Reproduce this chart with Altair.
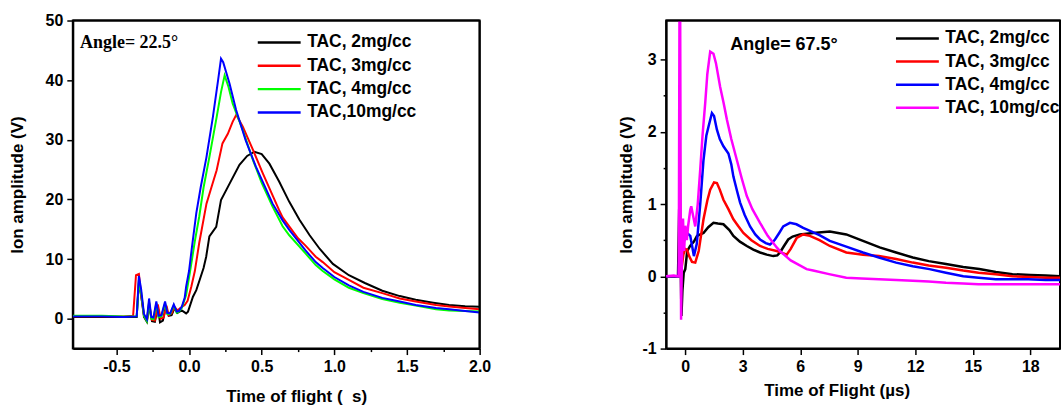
import altair as alt
import pandas as pd

# ---------------- Left panel data (Angle = 22.5 deg) ----------------
L_NAMES = ["TAC, 2mg/cc", "TAC, 3mg/cc", "TAC, 4mg/cc", "TAC,10mg/cc"]
L_COLORS = ["#000000", "#FF0000", "#00FF00", "#0000FF"]

L2_X = [-0.8, -0.6, -0.45, -0.36, -0.345, -0.33, -0.31, -0.29, -0.275, -0.255, -0.235, -0.215, -0.2, -0.18,
        -0.16, -0.14, -0.12, -0.1, -0.08, -0.05, -0.02, -0.007, 0.027, 0.05, 0.073, 0.1, 0.118, 0.14, 0.187,
        0.22, 0.28, 0.347, 0.4, 0.45, 0.5, 0.553, 0.62, 0.69, 0.76, 0.83, 0.9, 0.99, 1.1, 1.21, 1.33,
        1.45, 1.56, 1.68, 1.79, 1.9, 2.0]
L2_Y = [0.3, 0.3, 0.3, 0.3, 6.5, 4.0, 0.3, -0.5, 2.2, -0.4, -0.5, 2.0, -0.6, -0.3,
        2.0, 0.5, 0.6, 1.8, 1.0, 1.4, 0.9, 1.2, 3.7, 4.8, 6.5, 8.5, 10.4, 13.8, 15.4,
        19.9, 22.7, 25.8, 27.3, 28.0, 27.6, 26.0, 23.0, 19.6, 16.6, 14.0, 11.7, 9.2, 7.3, 6.0, 4.7,
        3.8, 3.2, 2.7, 2.3, 2.1, 2.0]

L3_X = [-0.8, -0.6, -0.45, -0.385, -0.365, -0.345, -0.33, -0.31, -0.29, -0.275, -0.255, -0.235, -0.215,
        -0.195, -0.175, -0.155, -0.14, -0.12, -0.1, -0.08, -0.06, -0.03, -0.01, 0.016, 0.04, 0.07, 0.12,
        0.16, 0.19, 0.23, 0.267, 0.3, 0.325, 0.37, 0.44, 0.507, 0.62, 0.644, 0.75, 0.8, 0.872, 0.92, 1.0,
        1.1, 1.2, 1.33, 1.45, 1.56, 1.7, 1.79, 1.9, 2.0]
L3_Y = [0.4, 0.4, 0.4, 0.5, 7.3, 7.5, 4.0, 0.6, -0.3, 2.6, -0.2, -0.3, 2.4,
        0.0, 0.2, 2.2, 0.6, 0.9, 2.0, 1.4, 1.8, 2.3, 3.0, 5.4, 8.0, 12.7, 19.3,
        22.5, 24.9, 29.4, 31.0, 33.0, 34.2, 32.2, 28.3, 24.4, 18.2, 17.0, 13.5, 12.3, 10.4, 9.5, 7.8,
        6.5, 5.2, 4.3, 3.4, 2.9, 2.3, 2.05, 1.8, 1.6]

L4_X = [-0.8, -0.6, -0.45, -0.36, -0.345, -0.33, -0.31, -0.29, -0.275, -0.26, -0.245, -0.225, -0.21,
        -0.19, -0.165, -0.15, -0.13, -0.105, -0.085, -0.07, -0.05, -0.02, 0.005, 0.04, 0.07, 0.1, 0.14,
        0.19, 0.22, 0.245, 0.27, 0.3, 0.37, 0.44, 0.5, 0.575, 0.644, 0.69, 0.8, 0.872, 0.92, 1.0, 1.1,
        1.2, 1.33, 1.45, 1.56, 1.7, 1.79, 1.9, 2.0]
L4_Y = [0.5, 0.5, 0.4, 0.4, 6.0, 4.5, 0.5, -0.4, 2.8, 0.0, -0.1, 2.6, 0.3,
        0.4, 2.6, 0.8, 0.8, 2.2, 1.0, 1.2, 1.8, 4.0, 7.6, 13.0, 17.1, 22.0, 27.1,
        33.8, 38.0, 40.8, 39.0, 36.1, 31.6, 26.6, 22.8, 18.8, 15.5, 14.0, 11.0, 9.0, 8.0, 6.6, 5.2,
        4.3, 3.3, 2.7, 2.2, 1.6, 1.4, 1.3, 1.2]

L10_X = [-0.8, -0.6, -0.45, -0.36, -0.345, -0.33, -0.31, -0.29, -0.275, -0.26, -0.245, -0.225, -0.21,
         -0.19, -0.165, -0.15, -0.13, -0.105, -0.085, -0.07, -0.05, -0.03, -0.02, 0.0, 0.02, 0.05, 0.08,
         0.12, 0.164, 0.2, 0.22, 0.235, 0.279, 0.324, 0.39, 0.46, 0.575, 0.644, 0.69, 0.8, 0.872, 0.92,
         1.0, 1.1, 1.2, 1.33, 1.45, 1.56, 1.7, 1.79, 1.9, 2.0]
L10_Y = [0.4, 0.4, 0.3, 0.4, 7.2, 5.0, 0.8, -0.1, 3.4, 0.3, 0.2, 2.9, 0.5,
         0.6, 2.9, 1.0, 0.9, 2.4, 1.2, 1.3, 2.0, 3.5, 5.4, 8.0, 12.0, 17.7, 22.0,
         27.1, 33.8, 40.0, 43.6, 43.0, 39.4, 35.0, 29.9, 25.5, 19.3, 16.5, 14.9, 11.5, 9.5, 8.5,
         7.0, 5.6, 4.5, 3.5, 2.9, 2.3, 1.8, 1.6, 1.3, 1.05]

L_SERIES = [(L_NAMES[0], L2_X, L2_Y), (L_NAMES[1], L3_X, L3_Y),
            (L_NAMES[2], L4_X, L4_Y), (L_NAMES[3], L10_X, L10_Y)]

# ---------------- Right panel data (Angle = 67.5 deg) ----------------
R_NAMES = ["TAC, 2mg/cc", "TAC, 3mg/cc", "TAC, 4mg/cc", "TAC, 10mg/cc"]
R_COLORS = ["#000000", "#FF0000", "#0000FF", "#FF00FF"]

R2_X = [-1.0, -0.6, -0.38, -0.32, -0.28, -0.24, -0.2, -0.15, -0.08, 0.0, 0.1, 0.25, 0.45, 0.61, 0.95, 1.2,
        1.47, 1.7, 1.99, 2.3, 2.51, 2.85, 3.21, 3.55, 3.9, 4.25, 4.59, 4.8, 4.94, 5.15, 5.37, 5.6, 5.98,
        6.67, 7.54, 8.4, 9.27, 10.14, 11.0, 11.87, 12.7, 13.6, 14.5, 15.34, 16.2, 17.07, 18.0, 18.8, 19.55]
R2_Y = [0.0, 0.0, 0.0, 0.9, 1.3, 0.2, -0.55, -0.2, 0.05, 0.1, 0.35, 0.42, 0.48, 0.56, 0.6, 0.68,
        0.74, 0.73, 0.72, 0.64, 0.56, 0.48, 0.42, 0.37, 0.33, 0.3, 0.28, 0.29, 0.33, 0.42, 0.51, 0.55, 0.58,
        0.6, 0.62, 0.58, 0.49, 0.4, 0.33, 0.26, 0.21, 0.17, 0.13, 0.1, 0.06, 0.03, 0.02, 0.01, 0.0]

R3_X = [-1.0, -0.5, -0.35, -0.3, -0.25, -0.2, -0.1, 0.0, 0.09, 0.2, 0.35, 0.52, 0.7, 0.95, 1.15, 1.3, 1.5,
        1.65, 1.8, 1.99, 2.25, 2.51, 2.75, 3.03, 3.45, 3.9, 4.3, 4.77, 5.0, 5.29, 5.5, 5.81, 6.15, 6.5, 7.0,
        7.54, 8.4, 9.27, 10.1, 11.0, 11.87, 12.7, 13.6, 14.5, 15.3, 16.2, 17.07, 18.0, 18.8, 19.55]
R3_Y = [0.0, 0.0, 0.0, 0.3, 0.45, 0.1, 0.3, 0.38, 0.37, 0.28, 0.2, 0.19, 0.35, 0.79, 1.05, 1.2, 1.3,
        1.29, 1.2, 1.06, 0.93, 0.79, 0.7, 0.6, 0.5, 0.42, 0.38, 0.35, 0.33, 0.3, 0.38, 0.53, 0.58, 0.56, 0.5,
        0.42, 0.33, 0.3, 0.28, 0.24, 0.19, 0.15, 0.12, 0.08, 0.05, 0.03, 0.0, -0.01, -0.02, -0.02]

R4_X = [-1.0, -0.5, -0.35, -0.3, -0.25, -0.2, -0.12, -0.05, 0.09, 0.26, 0.45, 0.6, 0.78, 0.95, 1.1, 1.21,
        1.39, 1.5, 1.65, 1.8, 1.99, 2.25, 2.4, 2.51, 2.7, 2.86, 3.1, 3.38, 3.65, 3.9, 4.2, 4.42, 4.55, 4.68,
        4.9, 5.11, 5.46, 5.8, 6.15, 6.33, 7.0, 7.54, 8.4, 9.27, 10.1, 11.0, 11.87, 12.74, 13.6, 14.5, 15.3,
        16.2, 17.1, 17.9, 18.8, 19.55]
R4_Y = [0.0, 0.0, 0.0, 0.4, 0.8, 0.3, 0.6, 0.5, 0.6, 0.56, 0.28, 0.45, 1.0, 1.61, 1.95, 2.07,
        2.26, 2.22, 2.03, 1.9, 1.8, 1.7, 1.55, 1.38, 1.18, 1.02, 0.85, 0.69, 0.58, 0.51, 0.46, 0.44, 0.47, 0.51,
        0.6, 0.69, 0.74, 0.72, 0.67, 0.65, 0.57, 0.49, 0.41, 0.33, 0.26, 0.19, 0.14, 0.1, 0.05, 0.0, -0.02,
        -0.04, -0.04, -0.04, -0.05, -0.05]

R10_X = [-1.0, -0.6, -0.4, -0.34, -0.3, -0.27, -0.24, -0.22, -0.18, -0.12, -0.06, 0.0, 0.08, 0.15, 0.26,
         0.31, 0.4, 0.52, 0.65, 0.78, 0.9, 1.04, 1.15, 1.3, 1.47, 1.6, 1.82, 2.0, 2.17, 2.4, 2.69, 2.95, 3.21,
         3.5, 3.9, 4.3, 4.77, 4.94, 5.5, 6.33, 6.67, 7.5, 8.4, 9.2, 10.1, 11.0, 11.87, 12.7, 13.6, 14.5, 15.3,
         16.2, 17.1, 18.0, 18.8, 19.55]
R10_Y = [0.0, 0.01, 0.0, 0.0, 4.0, 4.0, 1.0, -0.6, 0.2, 0.8, 0.35, 0.7, 0.5, 0.7, 0.92,
         0.97, 0.85, 0.69, 1.0, 1.48, 1.95, 2.4, 2.8, 3.11, 3.08, 2.95, 2.62, 2.4, 2.17, 1.9, 1.61, 1.35, 1.11,
         0.93, 0.74, 0.56, 0.4, 0.35, 0.22, 0.1, 0.08, 0.03, -0.02, -0.03, -0.04, -0.05, -0.06, -0.07, -0.09,
         -0.1, -0.11, -0.11, -0.11, -0.11, -0.11, -0.11]

R_SERIES = [(R_NAMES[0], R2_X, R2_Y), (R_NAMES[1], R3_X, R3_Y),
            (R_NAMES[2], R4_X, R4_Y), (R_NAMES[3], R10_X, R10_Y)]

# axis domains
L_XDOM = [-0.8, 2.0]
L_YDOM = [-5, 50]
R_XDOM = [-1, 19.55]
R_YDOM = [-1, 3.54]

# tick values (major + minor, majors first in alternation)
L_XTICKS = [-0.5, -0.25, 0.0, 0.25, 0.5, 0.75, 1.0, 1.25, 1.5, 1.75, 2.0]
L_YTICKS = [0, 5, 10, 15, 20, 25, 30, 35, 40, 45, 50]
R_XTICKS = [0, 1.5, 3, 4.5, 6, 7.5, 9, 10.5, 12, 13.5, 15, 16.5, 18, 19.5]
R_YTICKS = [-1, -0.5, 0, 0.5, 1, 1.5, 2, 2.5, 3]

# annotations
L_NOTE = {"t": [-0.75], "v": [46.3], "label": ["Angle= 22.5°"]}
R_NOTE = {"t": [2.35], "v": [3.2], "label": ["Angle= 67.5°"]}

L_W, L_H = 408, 329
R_W, R_H = 395, 329


def to_frame(series):
    rows = []
    for name, xs, ys in series:
        for a, b in zip(xs, ys):
            rows.append({"t": a, "v": b, "series": name})
    return pd.DataFrame(rows)


SANS = "Liberation Sans"


def legend(x, y, rp):
    return alt.Legend(orient="none", legendX=x, legendY=y, symbolType="stroke", symbolSize=1849,
                      symbolStrokeWidth=2.5, labelFont=SANS, labelFontWeight="bold", labelFontSize=17.5,
                      labelColor="black", clipHeight=22, rowPadding=rp, padding=0, labelOffset=5)


def axis(values, title, label_expr, major_test, **kw):
    return alt.Axis(values=values, title=title, labelExpr=label_expr,
                    tickSize={"condition": {"test": major_test, "value": 6}, "value": 3},
                    labelOverlap=False, labelFlush=False, grid=False, **kw)


def top_border(xdom, ydom):
    return alt.Chart(pd.DataFrame({"t": [xdom[0]], "t2": [xdom[1]], "v": [ydom[1]]})).mark_rule(
        color="black", strokeWidth=2).encode(x="t:Q", x2="t2:Q", y="v:Q")


def right_border(xdom, ydom):
    return alt.Chart(pd.DataFrame({"t": [xdom[1]], "v": [ydom[0]], "v2": [ydom[1]]})).mark_rule(
        color="black", strokeWidth=2).encode(x="t:Q", y="v:Q", y2="v2:Q")


# ---------------- left chart ----------------
left_lines = alt.Chart(to_frame(L_SERIES)).mark_line(strokeWidth=2, clip=True).encode(
    x=alt.X("t:Q", scale=alt.Scale(domain=L_XDOM, nice=False, zero=False),
            axis=axis(L_XTICKS, "Time of flight (\u00a0\u00a0s)",
                      "abs(round(datum.value*4)) % 2 == 0 ? (datum.value < 0 ? '-' : '') + format(abs(datum.value), '.1f') : ''",
                      "abs(round(datum.value*4)) % 2 == 0", titleX=224, labelPadding=4, titlePadding=14)),
    y=alt.Y("v:Q", scale=alt.Scale(domain=L_YDOM, nice=False, zero=False),
            axis=axis(L_YTICKS, "Ion amplitude (V)",
                      "datum.value % 10 == 0 ? format(datum.value, 'd') : ''",
                      "datum.value % 10 == 0", labelPadding=4, titlePadding=19)),
    color=alt.Color("series:N", title=None,
                    scale=alt.Scale(domain=L_NAMES, range=L_COLORS), legend=legend(184, 11, 1.4)),
)
left_text = alt.Chart(pd.DataFrame(L_NOTE)).mark_text(
    align="left", baseline="middle", font="Liberation Serif", fontWeight="bold", fontSize=18, color="black"
).encode(x="t:Q", y="v:Q", text="label:N")
left = alt.layer(left_lines, left_text, top_border(L_XDOM, L_YDOM), right_border(L_XDOM, L_YDOM)
                 ).properties(width=L_W, height=L_H)

# ---------------- right chart ----------------
right_lines = alt.Chart(to_frame(R_SERIES)).mark_line(strokeWidth=2.5, clip=True).encode(
    x=alt.X("t:Q", scale=alt.Scale(domain=R_XDOM, nice=False, zero=False),
            axis=axis(R_XTICKS, "Time of Flight (µs)",
                      "datum.value % 3 == 0 ? format(datum.value, 'd') : ''",
                      "datum.value % 3 == 0", titleX=171, labelPadding=4, titlePadding=8)),
    y=alt.Y("v:Q", scale=alt.Scale(domain=R_YDOM, nice=False, zero=False),
            axis=axis(R_YTICKS, "Ion amplitude (V)",
                      "datum.value % 1 == 0 ? (datum.value < 0 ? '-' : '') + format(abs(datum.value), 'd') : ''",
                      "datum.value % 1 == 0", labelPadding=4, titlePadding=6)),
    color=alt.Color("series:N", title=None,
                    scale=alt.Scale(domain=R_NAMES, range=R_COLORS), legend=legend(229, 7, 1.2)),
)
right_text = alt.Chart(pd.DataFrame(R_NOTE)).mark_text(
    align="left", baseline="middle", font=SANS, fontWeight="bold", fontSize=18, color="black"
).encode(x="t:Q", y="v:Q", text="label:N")
right = alt.layer(right_lines, right_text, top_border(R_XDOM, R_YDOM)).properties(width=R_W, height=R_H)

chart = alt.hconcat(left, right, spacing=124).resolve_scale(color="independent").properties(
    padding={"left": 7, "top": 11, "right": 0, "bottom": 0}, background="white"
).configure_axis(
    labelFont=SANS, labelFontWeight="bold", labelFontSize=16, labelColor="black",
    titleFont=SANS, titleFontWeight="bold", titleFontSize=17, titleColor="black",
    domainColor="black", domainWidth=2, tickColor="black", tickWidth=1.5, grid=False,
    labelOverlap=False, labelFlush=False
).configure_view(stroke="black", strokeWidth=2)

chart.save("out.html", embed_options={"renderer": "svg", "actions": False})
